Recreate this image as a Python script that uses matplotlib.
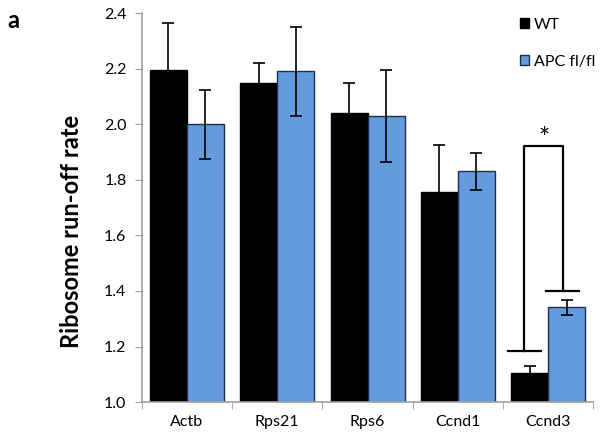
import numpy as np
import matplotlib
matplotlib.use("Agg")
import matplotlib.pyplot as plt

genes = ["Actb", "Rps21", "Rps6", "Ccnd1", "Ccnd3"]
wt = [2.195, 2.15, 2.04, 1.755, 1.105]
wt_err = [0.17, 0.07, 0.11, 0.17, 0.025]
apc = [2.00, 2.19, 2.03, 1.83, 1.342]
apc_err = [0.125, 0.16, 0.165, 0.066, 0.027]

# significance bracket for Ccnd3 (y values)
sig_low = 1.185
sig_high = 1.40
sig_top = 1.92

plt.rcParams['font.family'] = ['Lato', 'DejaVu Sans']

fig = plt.figure(figsize=(6.01, 4.38), dpi=100)
ax = fig.add_axes([0.236, 0.082, 0.751, 0.888])

x = np.arange(len(genes))
w = 0.41
ax.bar(x - w/2, wt, w, color='black', edgecolor='black', linewidth=1, label='WT', zorder=2)
ax.bar(x + w/2, apc, w, color='#639bdc', edgecolor='#1c2e48', linewidth=1, label='APC fl/fl', zorder=2)
ax.errorbar(x - w/2, wt, yerr=wt_err, fmt='none', ecolor='black', elinewidth=1.2, capsize=4, capthick=1.2, zorder=3)
ax.errorbar(x + w/2, apc, yerr=apc_err, fmt='none', ecolor='black', elinewidth=1.2, capsize=4, capthick=1.2, zorder=3)

# bracket
c = x[4]
ax.plot([c - 0.44, c - 0.075], [sig_low, sig_low], color='black', lw=1.6)
ax.plot([c - 0.02, c + 0.345], [sig_high, sig_high], color='black', lw=1.6)
ax.plot([c - 0.265, c - 0.265, c + 0.165, c + 0.165], [sig_low, sig_top, sig_top, sig_high], color='black', lw=1.6)
ax.text(c - 0.05, sig_top - 0.02, '*', ha='center', va='bottom', fontsize=19)

ax.set_xlim(-0.5, 4.5)
ax.set_ylim(1.0, 2.4)
ax.set_yticks(np.arange(1.0, 2.41, 0.2))
ax.set_yticklabels(['%.1f' % v for v in np.arange(1.0, 2.41, 0.2)], fontsize=11.5)
ax.set_xticks(x)
ax.set_xticklabels(genes, fontsize=11.5)
ax.set_xticks(np.arange(-0.5, 4.6, 1), minor=True)
ax.tick_params(axis='x', which='major', length=0, pad=9)
ax.tick_params(axis='x', which='minor', length=5, color='#a0a0a0', direction='out')
ax.tick_params(axis='y', length=5, color='#a0a0a0', direction='out', pad=6)

for s in ['top', 'right']:
    ax.spines[s].set_visible(False)
for s in ['left', 'bottom']:
    ax.spines[s].set_color('#a0a0a0')
    ax.spines[s].set_linewidth(1.2)

ax.set_ylabel('Ribosome run-off rate', fontsize=17, fontweight='bold')
ax.yaxis.set_label_coords(-0.13, 0.44)

ax.legend(loc='upper left', bbox_to_anchor=(0.805, 1.025), frameon=False, fontsize=11.5,
          handlelength=0.6, handleheight=0.6, handletextpad=0.3, labelspacing=1.45)

fig.text(0.012, 0.98, 'a', fontsize=17, fontweight='bold', va='top')

fig.savefig('out.png', dpi=100)
